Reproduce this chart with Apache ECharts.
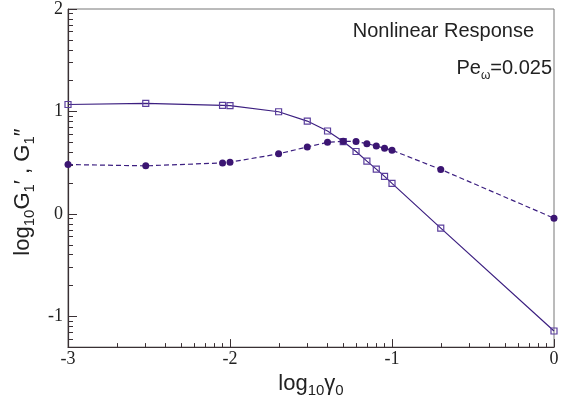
<!DOCTYPE html>
<html>
<head>
<meta charset="utf-8">
<script src="https://cdn.jsdelivr.net/npm/echarts@6/dist/echarts.min.js"></script>
<style>
html,body{margin:0;padding:0;background:#fff;}
#main{width:567px;height:403px;}
</style>
</head>
<body>
<div id="main"></div>
<script>
// log10(gamma0) of each measured point
var logGamma = [-3, -2.52, -2.046, -2, -1.7, -1.523, -1.398, -1.301, -1.222, -1.155, -1.097, -1.046, -1, -0.699, 0];
// log10 G1' (open squares, solid)
var logG1p = [1.068, 1.078, 1.06, 1.056, 0.997, 0.906, 0.809, 0.706, 0.609, 0.515, 0.437, 0.366, 0.298, -0.139, -1.143];
// log10 G1'' (filled circles, dashed)
var logG1pp = [0.482, 0.469, 0.498, 0.505, 0.586, 0.654, 0.699, 0.709, 0.706, 0.686, 0.663, 0.641, 0.621, 0.434, -0.042];

var xTicks = [-3, -2, -1, 0];
var yTicks = [-1, 0, 1, 2];
var xMin = -3, xMax = 0, yMin = -1.3, yMax = 2;

// log-style minor ticks between the decades
function minorTicks(lo, hi){
	var out = [];
	for(var d = Math.floor(lo) - 1; d < hi; d++){
		for(var k = 2; k < 10; k++){
			var v = d + Math.log10(k);
			if(v > lo && v < hi) out.push(v);
		}
	}
	return out;
}

function pairs(xs, ys){
	var out = [];
	for(var i = 0; i < xs.length; i++) out.push([xs[i], ys[i]]);
	return out;
}

var axisColor = '#3a3034';
var lineColor = '#3c1f80';
var serif = '"Liberation Serif", "Times New Roman", serif';
var sans = '"Liberation Sans", Arial, sans-serif';

var nameRich = {
	m: {fontSize: 22, fontFamily: sans, color: '#222', lineHeight: 28, verticalAlign: 'middle'},
	s: {fontSize: 15, fontFamily: sans, color: '#222', lineHeight: 15, verticalAlign: 'bottom'}
};

var chart = echarts.init(document.getElementById('main'));
chart.setOption({
	animation: false,
	grid: {left: 68, right: 13, top: 9, bottom: 54, show: true, borderColor: '#777', borderWidth: 1},
	xAxis: [{
		type: 'value', min: xMin, max: xMax, interval: 1, position: 'bottom',
		name: '{m|log}{s|10}{m|γ}{s|0}', nameLocation: 'middle', nameGap: 21,
		nameTextStyle: {rich: nameRich},
		axisLine: {onZero: false, lineStyle: {color: axisColor, width: 1.2}},
		axisTick: {inside: true, length: 8, lineStyle: {color: axisColor}},
		axisLabel: {margin: 3, fontSize: 18, fontFamily: serif, color: '#222',
			formatter: function(v){ return xTicks.indexOf(v) >= 0 ? String(v) : ''; }},
		splitLine: {show: false}
	}, {
		type: 'value', min: xMin, max: xMax, position: 'bottom', offset: 0,
		axisLine: {show: false, onZero: false},
		axisTick: {inside: true, length: 4, customValues: minorTicks(xMin, xMax), lineStyle: {color: axisColor}},
		axisLabel: {show: false},
		splitLine: {show: false}
	}],
	yAxis: [{
		type: 'value', min: yMin, max: yMax, position: 'left',
		name: '{m|log}{s|10}{m|G}{s|1}{m|′ , G}{s|1}{m|″}', nameLocation: 'middle', nameGap: 20,
		nameTextStyle: {rich: nameRich, padding: [0, 28, 0, 0]},
		axisLine: {onZero: false, lineStyle: {color: axisColor, width: 1.2}},
		axisTick: {inside: true, length: 9, customValues: yTicks, lineStyle: {color: axisColor}},
		axisLabel: {margin: 5, fontSize: 18, fontFamily: serif, color: '#222', customValues: yTicks},
		splitLine: {show: false}
	}, {
		type: 'value', min: yMin, max: yMax, position: 'left', offset: 0,
		axisLine: {show: false, onZero: false},
		axisTick: {inside: true, length: 5, customValues: minorTicks(yMin, yMax), lineStyle: {color: axisColor}},
		axisLabel: {show: false},
		splitLine: {show: false}
	}],
	graphic: [{
		type: 'text', right: 33, top: 21,
		style: {text: 'Nonlinear Response', fontSize: 20, fontFamily: sans, fill: '#222'}
	}, {
		type: 'text', right: 15, top: 58,
		style: {
			text: '{m|Pe}{s|ω}{m|=0.025}',
			rich: {
				m: {fontSize: 20, fontFamily: sans, fill: '#222', lineHeight: 28, verticalAlign: 'middle'},
				s: {fontSize: 12, fontFamily: sans, fill: '#222', lineHeight: 12, verticalAlign: 'bottom'}
			}
		}
	}],
	series: [{
		name: "G1'", type: 'line', data: pairs(logGamma, logG1p),
		symbol: 'rect', symbolSize: 6,
		lineStyle: {color: lineColor, width: 1.2},
		itemStyle: {color: 'rgba(255,255,255,0)', borderColor: '#5b3f9d', borderWidth: 1.2}
	}, {
		name: "G1''", type: 'line', data: pairs(logGamma, logG1pp),
		symbol: 'circle', symbolSize: 7,
		lineStyle: {color: lineColor, width: 1.2, type: [5, 3]},
		itemStyle: {color: '#3b1572'}
	}]
});
</script>
</body>
</html>
